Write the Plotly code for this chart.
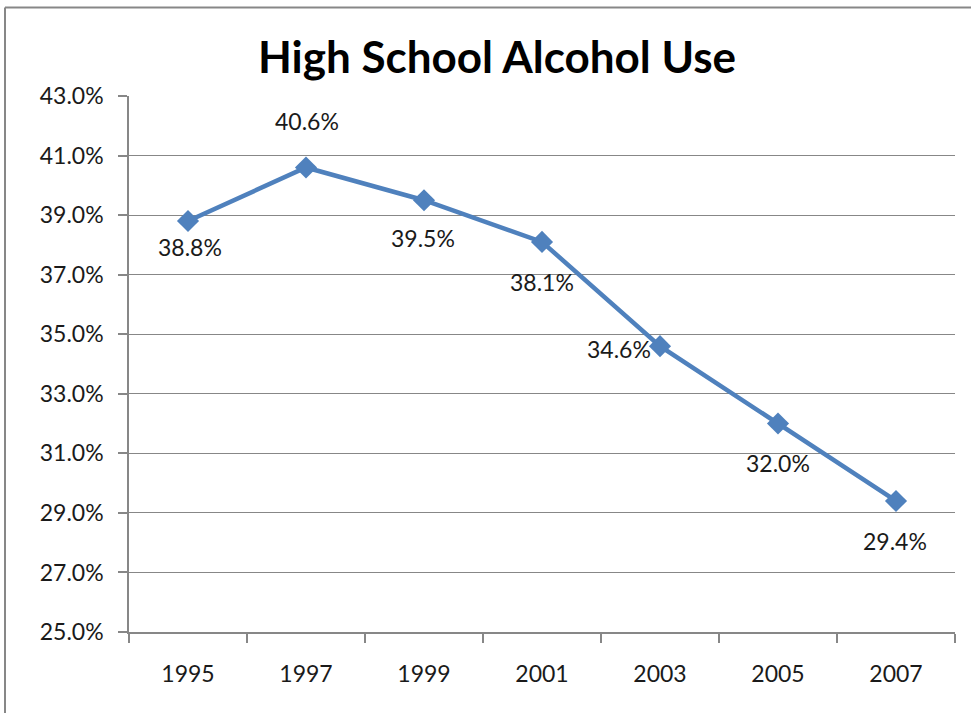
import plotly.graph_objects as go

# High school alcohol use, by survey year
years = ["1995", "1997", "1999", "2001", "2003", "2005", "2007"]
alcohol_use = [38.8, 40.6, 39.5, 38.1, 34.6, 32.0, 29.4]
y_ticks = [25, 27, 29, 31, 33, 35, 37, 39, 41, 43]

# label offsets in pixels (dx, dy) relative to each marker
label_offsets = [(2, -26), (1, 46), (-1, -38), (0, -40), (-41, -3), (0, -39), (-1, -40)]

W, H = 971, 713
L, R, T, B = 129, 16, 96, 81
pw, ph = W - L - R, H - T - B

FONT = "Lato"
BLUE = "#4F81BD"
GRAY = "#878787"
TEXT = "#1a1a1a"

fig = go.Figure()
fig.add_trace(go.Scatter(
    x=years, y=alcohol_use, mode="lines+markers",
    line=dict(color=BLUE, width=4.5),
    marker=dict(symbol="diamond", size=17, color=BLUE),
    hoverinfo="skip", showlegend=False,
))

# value labels (category axis: position by category index)
for i, (v, (dx, dy)) in enumerate(zip(alcohol_use, label_offsets)):
    fig.add_annotation(
        x=i, y=v, xref="x", yref="y", text=f"{v:.1f}%", showarrow=False,
        xshift=dx, yshift=dy,
        font=dict(family=FONT, size=23, color=TEXT),
    )

# chart frame (left and top edges)
def px_x(px):
    return (px - L) / pw

def px_y(py):
    return (H - B - py) / ph

fig.add_shape(type="line", xref="paper", yref="paper",
              x0=px_x(5), x1=px_x(5), y0=px_y(7.5), y1=px_y(H + 5),
              line=dict(color=GRAY, width=2))
fig.add_shape(type="line", xref="paper", yref="paper",
              x0=px_x(5), x1=px_x(W + 5), y0=px_y(7.5), y1=px_y(7.5),
              line=dict(color=GRAY, width=2))

fig.update_layout(
    width=W, height=H,
    margin=dict(l=L, r=R, t=T, b=B),
    paper_bgcolor="white", plot_bgcolor="white",
    title=dict(text="<b>High School Alcohol Use</b>", x=497 / W, xanchor="center",
               xref="container", y=1 - 58 / H, yanchor="middle",
               font=dict(family=FONT, size=44, color="black")),
    font=dict(family=FONT, size=23, color=TEXT),
    xaxis=dict(
        type="category", tickson="boundaries", showgrid=False,
        showline=True, linecolor=GRAY, linewidth=1.5,
        ticks="outside", ticklen=9, tickcolor=GRAY, tickwidth=1.5,
        tickfont=dict(family=FONT, size=23, color=TEXT), range=[-0.5, 6.5],
        ticklabelstandoff=21,
    ),
    yaxis=dict(
        range=[25, 43], tickvals=y_ticks,
        ticktext=[f"{t:.1f}%" for t in y_ticks],
        showgrid=True, gridcolor=GRAY, gridwidth=1,
        showline=True, linecolor=GRAY, linewidth=1.5,
        ticks="outside", ticklen=9, tickcolor=GRAY, tickwidth=1.5,
        tickfont=dict(family=FONT, size=23, color=TEXT), zeroline=False,
        ticklabelstandoff=10,
    ),
)

fig.write_html("out.html")
